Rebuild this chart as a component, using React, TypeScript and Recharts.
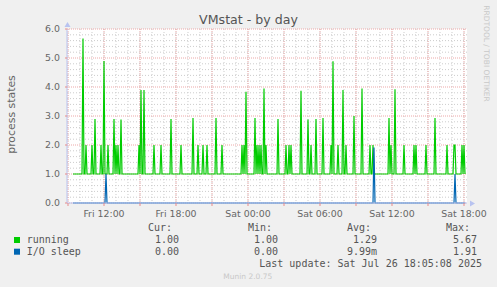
import { CartesianGrid, Line, LineChart, XAxis, YAxis } from "recharts";

// time axis is minutes since Fri 00:00, one sample every 5 minutes
const timeDomain = [535, 2535];
const seriesStart = 565;
const seriesEnd = 2525;

const tickTimes = [720, 1080, 1440, 1800, 2160, 2520];
const tickLabels = ["Fri 12:00", "Fri 18:00", "Sat 00:00", "Sat 06:00", "Sat 12:00", "Sat 18:00"];
const majorTimes = [540, 720, 900, 1080, 1260, 1440, 1620, 1800, 1980, 2160, 2340, 2520];
const minorTimes = [
  540, 600, 660, 720, 780, 840, 900, 960, 1020, 1080, 1140, 1200, 1260, 1320, 1380, 1440, 1500,
  1560, 1620, 1680, 1740, 1800, 1860, 1920, 1980, 2040, 2100, 2160, 2220, 2280, 2340, 2400, 2460, 2520
];
const yTicks = [0, 1, 2, 3, 4, 5, 6];
const yMinor = [
  0.2, 0.4, 0.6, 0.8, 1.2, 1.4, 1.6, 1.8, 2.2, 2.4, 2.6, 2.8, 3.2, 3.4, 3.6, 3.8, 4.2, 4.4, 4.6,
  4.8, 5.2, 5.4, 5.6, 5.8
];

// baseline level and spikes [minute, value]
const runningBase = 1.0;
const runningPeaks: [number, number][] = [
  [615, 5.67], [630, 2.0], [660, 2.0], [675, 2.9], [705, 2.0], [720, 4.9], [740, 2.0],
  [770, 2.9], [780, 2.0], [790, 2.0], [805, 2.88], [895, 2.0], [905, 3.9], [920, 3.9],
  [970, 2.0], [1005, 2.0], [1055, 2.9], [1105, 2.0], [1165, 2.93], [1190, 2.0], [1215, 2.0],
  [1235, 2.0], [1280, 2.93], [1310, 2.0], [1410, 2.0], [1420, 2.0], [1430, 3.84],
  [1475, 2.93], [1485, 2.0], [1495, 2.0], [1505, 2.0], [1520, 3.95], [1530, 2.0],
  [1590, 2.9], [1630, 2.0], [1645, 2.0], [1655, 2.0], [1705, 3.87], [1740, 2.88],
  [1755, 2.0], [1780, 2.9], [1815, 2.93], [1855, 2.0], [1865, 4.89], [1890, 2.0],
  [1915, 3.9], [1930, 2.0], [1970, 3.0], [2010, 3.95], [2050, 2.0], [2065, 2.0],
  [2145, 2.93], [2155, 2.0], [2175, 3.92], [2220, 2.0], [2270, 2.0], [2280, 2.0],
  [2330, 2.0], [2375, 2.93], [2435, 2.0], [2470, 2.0], [2475, 2.0], [2510, 2.0], [2520, 2.0]
];
const sleepBase = 0.0;
const sleepPeaks: [number, number][] = [
  [730, 1.0], [2070, 1.91], [2475, 1.0]
];

const seriesNames = ["running", "I/O sleep"];
const seriesColors = ["#00cc00", "#0066b3"];
const curValues = ["1.00", "0.00"];
const minValues = ["1.00", "0.00"];
const avgValues = ["1.29", "9.99m"];
const maxValues = ["5.67", "1.91"];

function buildSeries(base: number, peaks: [number, number][]) {
  const pts = [{ t: seriesStart, v: base }];
  peaks.forEach(([t, v], i) => {
    const prev = peaks[i - 1];
    const next = peaks[i + 1];
    if (!prev || prev[0] < t - 5) pts.push({ t: t - 5, v: base });
    pts.push({ t, v });
    if (!next || next[0] > t + 5) pts.push({ t: t + 5, v: base });
  });
  pts.push({ t: seriesEnd, v: base });
  return pts;
}

const runningData = buildSeries(runningBase, runningPeaks);
const sleepData = buildSeries(sleepBase, sleepPeaks);

const sans = "'DejaVu Sans', sans-serif";
const mono = "'DejaVu Sans Mono', monospace";
const axisBlue = "#b8c3f0";

export default function App() {
  const cols = [
    { head: "Cur:", hx: 172, vx: 179, vals: curValues },
    { head: "Min:", hx: 272, vx: 278, vals: minValues },
    { head: "Avg:", hx: 371, vx: 377, vals: avgValues },
    { head: "Max:", hx: 470, vx: 477, vals: maxValues }
  ];
  return (
    <div style={{ position: "absolute", left: 0, top: 0, width: 497, height: 287, background: "#f0f0f0" }}>
      <LineChart
        width={497}
        height={287}
        data={runningData}
        margin={{ top: 29, right: 30, bottom: 64, left: 7 }}
      >
        <CartesianGrid
          fill="#ffffff"
          stroke="#cccccc"
          strokeDasharray="1 2"
          horizontalValues={yMinor}
          verticalValues={minorTimes}
        />
        <CartesianGrid
          stroke="#eda8a8"
          strokeDasharray="1 1"
          horizontalValues={yTicks}
          verticalValues={majorTimes}
        />
        <Line
          data={runningData}
          dataKey="v"
          type="linear"
          stroke={seriesColors[0]}
          strokeWidth={1.2}
          dot={false}
          isAnimationActive={false}
        />
        <Line
          data={sleepData}
          dataKey="v"
          type="linear"
          stroke={seriesColors[1]}
          strokeWidth={1.2}
          dot={false}
          isAnimationActive={false}
        />
        <XAxis
          dataKey="t"
          type="number"
          domain={timeDomain}
          allowDataOverflow
          ticks={majorTimes}
          tickFormatter={(t: number) => tickLabels[tickTimes.indexOf(t)] ?? ""}
          height={20}
          tickSize={3}
          tickMargin={4}
          axisLine={{ stroke: axisBlue }}
          tickLine={{ stroke: "#e88a8a" }}
          tick={{ fill: "#666666", fontSize: 9.4, fontFamily: sans }}
          interval={0}
        />
        <YAxis
          type="number"
          domain={[0, 6]}
          ticks={yTicks}
          tickFormatter={(v: number) => v.toFixed(1)}
          width={60}
          tickSize={2}
          tickMargin={5}
          axisLine={{ stroke: axisBlue }}
          tickLine={{ stroke: "#e88a8a" }}
          tick={{ fill: "#666666", fontSize: 9.4, fontFamily: sans }}
          interval={0}
        />
      </LineChart>
      <svg
        width={497}
        height={287}
        style={{ position: "absolute", left: 0, top: 0, pointerEvents: "none" }}
      >
        <polygon points="470,200.5 475,203.5 470,206.5" fill={axisBlue} />
        <polygon points="64.5,27 67.5,22 70.5,27" fill={axisBlue} />
        <text x={248.5} y={23.5} textAnchor="middle" fontFamily={sans} fontSize={12.6} fill="#555555">
          VMstat - by day
        </text>
        <text
          x={0}
          y={0}
          transform="translate(14.5,114.5) rotate(-90)"
          textAnchor="middle"
          fontFamily={sans}
          fontSize={10.9}
          fill="#666666"
        >
          process states
        </text>
        <text
          x={0}
          y={0}
          transform="translate(484,53.5) rotate(90)"
          textAnchor="middle"
          fontFamily={sans}
          fontSize={7.5}
          fill="#c8c8c8"
        >
          RRDTOOL / TOBI OETIKER
        </text>
        {cols.map((c) => (
          <text key={c.head} x={c.hx} y={230.7} textAnchor="end" fontFamily={mono} fontSize={10} fill="#555555">
            {c.head}
          </text>
        ))}
        {seriesNames.map((name, i) => (
          <g key={name}>
            <rect x={14} y={237 + i * 11.7} width={6} height={6} fill={seriesColors[i]} />
            <text x={26.7} y={243.3 + i * 11.7} fontFamily={mono} fontSize={10} fill="#555555">
              {name}
            </text>
            {cols.map((c) => (
              <text
                key={c.head}
                x={c.vx}
                y={243.3 + i * 11.7}
                textAnchor="end"
                fontFamily={mono}
                fontSize={10}
                fill="#555555"
              >
                {c.vals[i]}
              </text>
            ))}
          </g>
        ))}
        <text x={482} y={266.7} textAnchor="end" fontFamily={mono} fontSize={10} fill="#555555">
          Last update: Sat Jul 26 18:05:08 2025
        </text>
        <text x={247.8} y={279.3} textAnchor="middle" fontFamily={sans} fontSize={7.5} fill="#c8c8c8">
          Munin 2.0.75
        </text>
      </svg>
    </div>
  );
}
